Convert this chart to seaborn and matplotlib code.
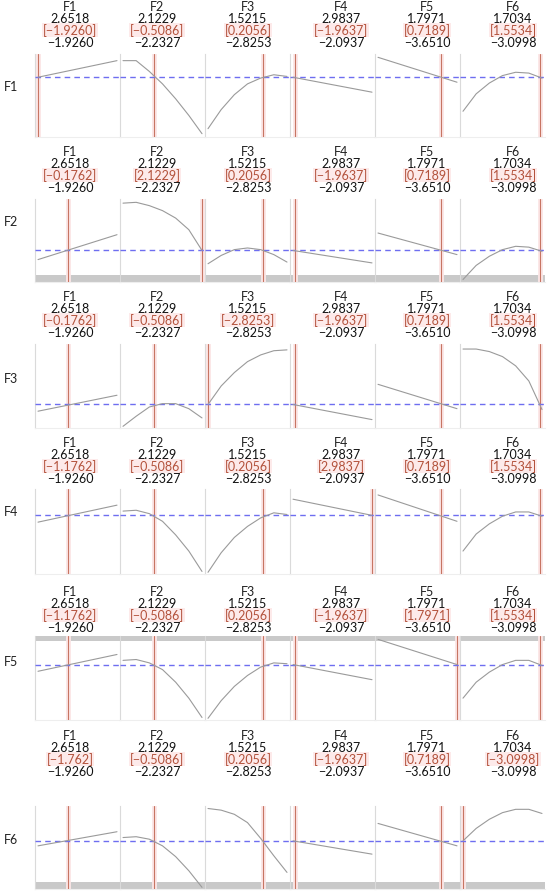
import matplotlib
matplotlib.use("Agg")
import matplotlib.pyplot as plt
import seaborn as sns

sns.set_theme(style="white")
plt.rcParams["font.family"] = ["Lato", "DejaVu Sans"]

factors = ["F1", "F2", "F3", "F4", "F5", "F6"]
f_min = [-1.9260, -2.2327, -2.8253, -2.0937, -3.6510, -3.0998]
f_max = [2.6518, 2.1229, 1.5215, 2.9837, 1.7971, 1.7034]
max_labels = ["2.6518", "2.1229", "1.5215", "2.9837", "1.7971", "1.7034"]
min_labels = ["\u22121.9260", "\u22122.2327", "\u22122.8253", "\u22122.0937", "\u22123.6510", "\u22123.0998"]

# bracketed current settings shown in each block
cur_labels = [
    ["[\u22121.9260]", "[\u22120.5086]", "[0.2056]", "[\u22121.9637]", "[0.7189]", "[1.5534]"],
    ["[\u22120.1762]", "[2.1229]", "[0.2056]", "[\u22121.9637]", "[0.7189]", "[1.5534]"],
    ["[\u22120.1762]", "[\u22120.5086]", "[\u22122.8253]", "[\u22121.9637]", "[0.7189]", "[1.5534]"],
    ["[\u22121.1762]", "[\u22120.5086]", "[0.2056]", "[2.9837]", "[0.7189]", "[1.5534]"],
    ["[\u22121.1762]", "[\u22120.5086]", "[0.2056]", "[\u22121.9637]", "[1.7971]", "[1.5534]"],
    ["[\u22121.762]", "[\u22120.5086]", "[0.2056]", "[\u22121.9637]", "[0.7189]", "[\u22123.0998]"],
]
# where the red cursor lines sit
cur_x = [
    [-1.9260, -0.5086, 0.2056, -1.9637, 0.7189, 1.5534],
    [-0.1762, 2.1229, 0.2056, -1.9637, 0.7189, 1.5534],
    [-0.1762, -0.5086, -2.8253, -1.9637, 0.7189, 1.5534],
    [-0.1762, -0.5086, 0.2056, 2.9837, 0.7189, 1.5534],
    [-0.1762, -0.5086, 0.2056, -1.9637, 1.7971, 1.5534],
    [-0.1762, -0.5086, 0.2056, -1.9637, 0.7189, -3.0998],
]

# sample points of the curved profiles (F2, F3, F6); F1, F4, F5 are straight lines
x_F2 = [-2.2327, -1.5068, -0.7808, -0.0549, 0.6711, 1.3970, 2.1229]
x_F3 = [-2.8253, -2.1008, -1.3764, -0.6519, 0.0726, 0.7970, 1.5215]
x_F6 = [-3.0998, -2.2993, -1.4987, -0.6982, 0.1023, 0.9029, 1.7034]

# profile traces per response block (share of panel height)
prof_F1 = [[0.72, 0.92], [0.92, 0.92, 0.79, 0.64, 0.46, 0.26, 0.04],
           [0.10, 0.33, 0.51, 0.64, 0.71, 0.75, 0.73], [0.72, 0.54], [0.96, 0.66],
           [0.31, 0.52, 0.65, 0.74, 0.78, 0.77, 0.71]]
prof_F2 = [[0.27, 0.57], [0.95, 0.96, 0.92, 0.86, 0.77, 0.63, 0.38],
           [0.22, 0.32, 0.39, 0.41, 0.39, 0.33, 0.24], [0.38, 0.23], [0.59, 0.33],
           [0.03, 0.20, 0.31, 0.39, 0.43, 0.42, 0.37]]
prof_F3 = [[0.20, 0.39], [0.02, 0.14, 0.25, 0.29, 0.29, 0.23, 0.12],
           [0.28, 0.50, 0.66, 0.79, 0.87, 0.92, 0.93], [0.28, 0.10], [0.52, 0.23],
           [0.94, 0.94, 0.91, 0.85, 0.74, 0.56, 0.22]]
prof_F4 = [[0.61, 0.81], [0.74, 0.75, 0.71, 0.62, 0.46, 0.27, 0.03],
           [0.02, 0.25, 0.43, 0.56, 0.66, 0.72, 0.70], [0.88, 0.69], [0.93, 0.62],
           [0.27, 0.47, 0.59, 0.68, 0.73, 0.73, 0.68]]
prof_F5 = [[0.58, 0.78], [0.71, 0.72, 0.68, 0.60, 0.45, 0.26, 0.03],
           [0.02, 0.23, 0.40, 0.53, 0.63, 0.68, 0.67], [0.66, 0.48], [0.96, 0.66],
           [0.26, 0.45, 0.57, 0.66, 0.71, 0.71, 0.65]]
prof_F6 = [[0.52, 0.69], [0.62, 0.63, 0.60, 0.52, 0.39, 0.22, 0.02],
           [0.97, 0.95, 0.90, 0.80, 0.61, 0.40, 0.20], [0.58, 0.42], [0.79, 0.52],
           [0.58, 0.73, 0.84, 0.92, 0.96, 0.96, 0.91]]
profiles = [prof_F1, prof_F2, prof_F3, prof_F4, prof_F5, prof_F6]
level = [0.72, 0.38, 0.28, 0.69, 0.66, 0.58]

# layout in pixels
W, H = 550, 895
panel_left = [35, 120, 205, 290, 375, 460]
panel_w = 85
panel_top = [55, 200, 345, 490, 637, 807]
panel_bot = [138, 283, 429, 575, 721, 890]
head_y = [7, 152, 297, 443, 592, 736]
label_y = [87, 222, 379, 512, 662, 840]
head_x = [70, 157, 248, 341, 427, 513]
gray_bar = [None, (0.0, 0.08), None, None, (0.94, 1.0), (0.0, 0.08)]

fig = plt.figure(figsize=(W / 100, H / 100), dpi=100)

red_txt = "#b3523c"
red_line = "#c77563"
fs = 9
for r in range(6):
    fig.text(11 / W, 1 - label_y[r] / H, factors[r], ha="center", va="center",
             fontsize=fs, color="#222222")
    for c in range(6):
        hx = head_x[c] / W
        y0 = head_y[r]
        fig.text(hx, 1 - y0 / H, factors[c], ha="center", va="center", fontsize=fs, color="#222222")
        fig.text(hx, 1 - (y0 + 12) / H, max_labels[c], ha="center", va="center", fontsize=fs, color="#111111")
        fig.text(hx, 1 - (y0 + 24) / H, cur_labels[r][c], ha="center", va="center", fontsize=fs,
                 color=red_txt, bbox=dict(facecolor="#fdeaea", edgecolor="none", pad=0.6))
        fig.text(hx, 1 - (y0 + 36) / H, min_labels[c], ha="center", va="center", fontsize=fs, color="#111111")

        ph = panel_bot[r] - panel_top[r]
        ax = fig.add_axes([panel_left[c] / W, 1 - panel_bot[r] / H, panel_w / W, ph / H])
        rng = f_max[c] - f_min[c]
        pad = rng * 3 / 79
        ax.set_xlim(f_min[c] - pad, f_max[c] + pad)
        ax.set_ylim(0, 1)
        ax.set_xticks([])
        ax.set_yticks([])
        ax.patch.set_alpha(0)
        for s in ["top", "right"]:
            ax.spines[s].set_visible(False)
        ax.spines["left"].set_color("#dadada")
        ax.spines["left"].set_linewidth(0.8)
        ax.spines["bottom"].set_color("#eeeeee")
        ax.spines["bottom"].set_linewidth(0.8)

        if gray_bar[r] is not None:
            ax.axhspan(gray_bar[r][0], gray_bar[r][1], color="#c9c9c9", lw=0, zorder=1)

        ys = profiles[r][c]
        if len(ys) == 2:
            xs = [f_min[c], f_max[c]]
        else:
            xs = {"F2": x_F2, "F3": x_F3, "F6": x_F6}[factors[c]]
        ax.axvline(cur_x[r][c], color="#fbe6e6", lw=3.5, zorder=2)
        ax.axvline(cur_x[r][c], color=red_line, lw=0.8, zorder=3)
        ax.axhline(level[r], color="#6e6ef0", lw=1.0, ls=(0, (4, 3)), zorder=4)
        sns.lineplot(x=xs, y=ys, ax=ax, color="#9a9a9a", lw=0.8, zorder=5)

fig.savefig("out.png", dpi=100)
